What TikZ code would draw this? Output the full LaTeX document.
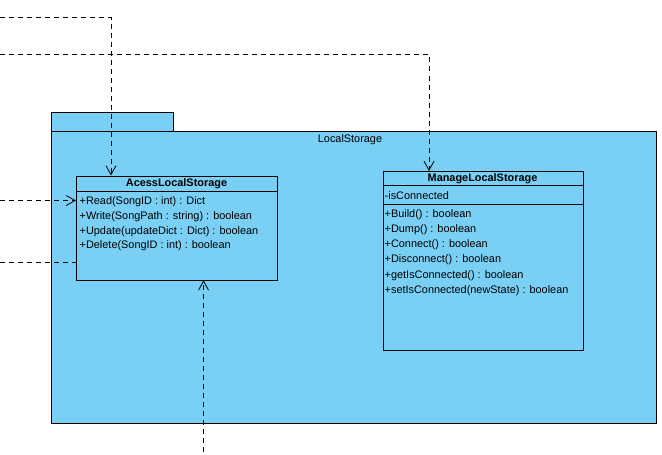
\documentclass[tikz,border=0pt]{standalone}
\usepackage{fontspec}
\setmainfont{Liberation Sans}
\usetikzlibrary{arrows.meta}
\definecolor{pkgblue}{RGB}{122,207,244}
\tikzset{
  pkg/.style={draw=black, fill=pkgblue, line width=0.8pt},
  classbox/.style={draw=black, fill=pkgblue, line width=0.8pt, inner sep=0pt, anchor=north west},
  sep/.style={draw=black, line width=0.8pt},
  member/.style={anchor=west, inner sep=0pt, font=\fontsize{10.9}{12}\selectfont},
  title/.style={inner sep=0pt, font=\fontsize{10.9}{12}\selectfont\bfseries},
  pkgname/.style={inner sep=0pt, font=\fontsize{10.9}{12}\selectfont},
  dep/.style={draw=black, line width=0.8pt, dash pattern=on 5pt off 4pt,
    -{Straight Barb[length=9pt,width=10pt,line width=0.8pt]}},
  depplain/.style={draw=black, line width=0.8pt, dash pattern=on 5pt off 4pt}
}
\begin{document}
\begin{tikzpicture}[x=1pt,y=-1pt]
\useasboundingbox (0,0) rectangle (662,455);

% package LocalStorage
\draw[pkg] (51,112) rectangle (173,131);
\draw[pkg] (51,131) rectangle (656,423);
\node[pkgname] (pkglabel) at (350,140) {LocalStorage};

% class AcessLocalStorage
\node[classbox, minimum width=201pt, minimum height=104pt] (acc) at (76,175.5) {};
\draw[sep] (76,191) -- (277,191);
\node[title] (acctitle) at (176.5,183.5) {AcessLocalStorage};
\node[member] (a1) at (79.5,202) {+Read(SongID : int) : Dict};
\node[member] (a2) at (79.5,216.7) {+Write(SongPath : string) : boolean};
\node[member] (a3) at (79.5,231.4) {+Update(updateDict : Dict) : boolean};
\node[member] (a4) at (79.5,246) {+Delete(SongID : int) : boolean};

% class ManageLocalStorage
\node[classbox, minimum width=200pt, minimum height=178.5pt] (mgr) at (382.5,171) {};
\draw[sep] (382.5,185.5) -- (582.5,185.5);
\draw[sep] (382.5,204.3) -- (582.5,204.3);
\node[title] (mgrtitle) at (482.5,178.5) {ManageLocalStorage};
\node[member] (m0) at (384.5,196) {-isConnected};
\node[member] (m1) at (384.5,214.5) {+Build() : boolean};
\node[member] (m2) at (384.5,229.7) {+Dump() : boolean};
\node[member] (m3) at (384.5,244.9) {+Connect() : boolean};
\node[member] (m4) at (384.5,260.1) {+Disconnect() : boolean};
\node[member] (m5) at (384.5,275.3) {+getIsConnected() : boolean};
\node[member] (m6) at (384.5,290.5) {+setIsConnected(newState) : boolean};

% free ends of the dependencies
\coordinate (src1) at (0,17.5);
\coordinate (src2) at (0,54.5);
\coordinate (src3) at (0,200.5);
\coordinate (src4) at (0,262.5);
\coordinate (src5) at (203.5,452);
\coordinate (col1) at (111,0);
\coordinate (col2) at (429,0);

% dependencies
\draw[dep] (src1) -| (acc.north -| col1);
\draw[dep] (src2) -| (mgr.north -| col2);
\draw[dep] (src3) -- (src3 -| acc.west);
\draw[depplain] (src4) -- (src4 -| acc.west);
\draw[dep] (src5) -- (src5 |- acc.south);
\end{tikzpicture}
\end{document}
